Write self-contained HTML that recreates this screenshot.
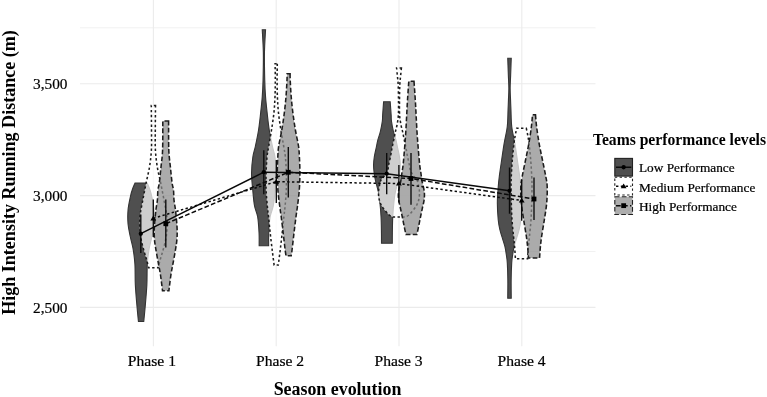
<!DOCTYPE html>
<html lang="en"><head><meta charset="utf-8"><title>Season evolution</title>
<style>html,body{margin:0;padding:0;background:#fff}body{width:767px;height:397px;overflow:hidden}svg{display:block}</style>
</head><body>
<svg width="767" height="397" viewBox="0 0 767 397">
<rect width="767" height="397" fill="#fff"/>
<g stroke="#ebebeb" fill="none">
<line x1="80" x2="595.5" y1="27.8" y2="27.8" stroke-width="0.7"/>
<line x1="80" x2="595.5" y1="139.7" y2="139.7" stroke-width="0.7"/>
<line x1="80" x2="595.5" y1="251.5" y2="251.5" stroke-width="0.7"/>
<line x1="80" x2="595.5" y1="83.8" y2="83.8" stroke-width="1.1"/>
<line x1="80" x2="595.5" y1="195.6" y2="195.6" stroke-width="1.1"/>
<line x1="80" x2="595.5" y1="307.4" y2="307.4" stroke-width="1.1"/>
<line x1="153.4" x2="153.4" y1="0" y2="346.3" stroke-width="1.1"/>
<line x1="276.2" x2="276.2" y1="0" y2="346.3" stroke-width="1.1"/>
<line x1="399" x2="399" y1="0" y2="346.3" stroke-width="1.1"/>
<line x1="521.8" x2="521.8" y1="0" y2="346.3" stroke-width="1.1"/>
</g>
<path d="M147.15,183.00C147.57,184.00 148.90,186.83 149.65,189.00C150.40,191.17 150.90,192.50 151.65,196.00C152.40,199.50 153.73,205.33 154.15,210.00C154.57,214.67 154.52,219.58 154.15,224.00C153.78,228.42 152.78,232.40 151.95,236.50C151.12,240.60 149.93,244.02 149.15,248.60C148.38,253.18 147.68,257.93 147.30,264.00C146.92,270.07 147.21,277.83 146.85,285.00C146.49,292.17 145.67,300.92 145.15,307.00C144.63,313.08 143.98,319.08 143.75,321.50L138.45,321.50C138.22,319.08 137.57,313.08 137.05,307.00C136.53,300.92 135.71,292.17 135.35,285.00C134.99,277.83 135.28,270.07 134.90,264.00C134.52,257.93 133.82,253.18 133.05,248.60C132.27,244.02 131.08,240.60 130.25,236.50C129.42,232.40 128.42,228.42 128.05,224.00C127.68,219.58 127.63,214.67 128.05,210.00C128.47,205.33 129.80,199.50 130.55,196.00C131.30,192.50 131.80,191.17 132.55,189.00C133.30,186.83 134.63,184.00 135.05,183.00Z" fill="#4f4f4f" fill-opacity="1" stroke="#333" stroke-width="1.1"/>
<path d="M155.50,105.40C155.47,109.50 155.32,122.57 155.30,130.00C155.28,137.43 155.07,143.83 155.40,150.00C155.73,156.17 156.42,161.50 157.30,167.00C158.18,172.50 159.58,177.50 160.70,183.00C161.82,188.50 162.98,194.50 164.00,200.00C165.02,205.50 166.32,211.00 166.80,216.00C167.28,221.00 167.10,226.00 166.90,230.00C166.70,234.00 166.32,236.38 165.60,240.00C164.88,243.62 163.52,248.37 162.60,251.70C161.68,255.03 160.85,257.33 160.10,260.00C159.35,262.67 158.43,266.42 158.10,267.70L148.70,267.70C148.37,266.42 147.45,262.67 146.70,260.00C145.95,257.33 145.12,255.03 144.20,251.70C143.28,248.37 141.92,243.62 141.20,240.00C140.48,236.38 140.10,234.00 139.90,230.00C139.70,226.00 139.52,221.00 140.00,216.00C140.48,211.00 141.78,205.50 142.80,200.00C143.82,194.50 144.98,188.50 146.10,183.00C147.22,177.50 148.62,172.50 149.50,167.00C150.38,161.50 151.07,156.17 151.40,150.00C151.73,143.83 151.52,137.43 151.50,130.00C151.48,122.57 151.33,109.50 151.30,105.40Z" fill="#ffffff" fill-opacity="0.72" stroke="#1c1c1c" stroke-width="1.55" stroke-dasharray="2.4 2.4"/>
<path d="M168.60,120.90C168.63,125.75 168.50,142.32 168.80,150.00C169.10,157.68 169.85,161.50 170.40,167.00C170.95,172.50 171.58,179.17 172.10,183.00C172.62,186.83 173.18,187.17 173.50,190.00C173.82,192.83 173.67,196.67 174.00,200.00C174.33,203.33 175.00,205.58 175.50,210.00C176.00,214.42 176.75,221.75 177.00,226.50C177.25,231.25 177.25,234.65 177.00,238.50C176.75,242.35 176.18,245.35 175.50,249.60C174.82,253.85 173.67,259.77 172.90,264.00C172.13,268.23 171.57,270.55 170.90,275.00C170.23,279.45 169.23,288.08 168.90,290.70L162.50,290.70C162.17,288.08 161.17,279.45 160.50,275.00C159.83,270.55 159.27,268.23 158.50,264.00C157.73,259.77 156.58,253.85 155.90,249.60C155.22,245.35 154.65,242.35 154.40,238.50C154.15,234.65 154.15,231.25 154.40,226.50C154.65,221.75 155.40,214.42 155.90,210.00C156.40,205.58 157.07,203.33 157.40,200.00C157.73,196.67 157.58,192.83 157.90,190.00C158.22,187.17 158.78,186.83 159.30,183.00C159.82,179.17 160.45,172.50 161.00,167.00C161.55,161.50 162.30,157.68 162.60,150.00C162.90,142.32 162.77,125.75 162.80,120.90Z" fill="#8a8a8a" fill-opacity="0.72" stroke="#1c1c1c" stroke-width="1.55" stroke-dasharray="4.7 2.3"/>
<path d="M265.55,29.70C265.37,33.58 264.58,44.62 264.45,53.00C264.32,61.38 264.57,72.72 264.75,80.00C264.93,87.28 265.14,91.15 265.55,96.70C265.96,102.25 266.58,107.75 267.20,113.30C267.82,118.85 268.39,124.55 269.25,130.00C270.11,135.45 271.40,141.50 272.35,146.00C273.30,150.50 274.30,152.50 274.95,157.00C275.60,161.50 276.23,167.50 276.25,173.00C276.27,178.50 275.55,184.50 275.05,190.00C274.55,195.50 274.07,201.55 273.25,206.00C272.43,210.45 270.90,212.20 270.15,216.70C269.40,221.20 269.00,228.15 268.75,233.00C268.50,237.85 268.67,243.67 268.65,245.80L259.15,245.80C259.13,243.67 259.30,237.85 259.05,233.00C258.80,228.15 258.40,221.20 257.65,216.70C256.90,212.20 255.37,210.45 254.55,206.00C253.73,201.55 253.25,195.50 252.75,190.00C252.25,184.50 251.53,178.50 251.55,173.00C251.57,167.50 252.20,161.50 252.85,157.00C253.50,152.50 254.50,150.50 255.45,146.00C256.40,141.50 257.69,135.45 258.55,130.00C259.41,124.55 259.98,118.85 260.60,113.30C261.22,107.75 261.84,102.25 262.25,96.70C262.66,91.15 262.87,87.28 263.05,80.00C263.23,72.72 263.48,61.38 263.35,53.00C263.22,44.62 262.43,33.58 262.25,29.70Z" fill="#4f4f4f" fill-opacity="1" stroke="#333" stroke-width="1.1"/>
<path d="M277.30,63.70C277.27,66.42 277.08,74.50 277.10,80.00C277.12,85.50 277.17,91.20 277.40,96.70C277.63,102.20 277.92,107.45 278.50,113.00C279.08,118.55 280.04,124.50 280.90,130.00C281.76,135.50 282.90,141.50 283.65,146.00C284.40,150.50 284.96,152.50 285.40,157.00C285.84,161.50 286.15,167.50 286.30,173.00C286.45,178.50 286.50,184.50 286.30,190.00C286.10,195.50 285.50,201.55 285.10,206.00C284.70,210.45 284.38,212.20 283.90,216.70C283.42,221.20 282.82,227.45 282.20,233.00C281.58,238.55 280.85,244.67 280.20,250.00C279.55,255.33 278.62,262.50 278.30,265.00L274.10,265.00C273.78,262.50 272.85,255.33 272.20,250.00C271.55,244.67 270.82,238.55 270.20,233.00C269.58,227.45 268.98,221.20 268.50,216.70C268.02,212.20 267.70,210.45 267.30,206.00C266.90,201.55 266.30,195.50 266.10,190.00C265.90,184.50 265.95,178.50 266.10,173.00C266.25,167.50 266.56,161.50 267.00,157.00C267.44,152.50 268.00,150.50 268.75,146.00C269.50,141.50 270.64,135.50 271.50,130.00C272.36,124.50 273.32,118.55 273.90,113.00C274.48,107.45 274.77,102.20 275.00,96.70C275.23,91.20 275.28,85.50 275.30,80.00C275.32,74.50 275.13,66.42 275.10,63.70Z" fill="#ffffff" fill-opacity="0.72" stroke="#1c1c1c" stroke-width="1.55" stroke-dasharray="2.4 2.4"/>
<path d="M290.10,73.70C290.12,74.75 290.02,76.17 290.20,80.00C290.38,83.83 290.75,91.20 291.20,96.70C291.65,102.20 292.20,107.45 292.90,113.00C293.60,118.55 294.47,124.50 295.40,130.00C296.33,135.50 297.83,141.50 298.50,146.00C299.17,150.50 299.17,152.50 299.40,157.00C299.63,161.50 299.92,167.50 299.90,173.00C299.88,178.50 299.70,184.50 299.30,190.00C298.90,195.50 298.05,201.55 297.50,206.00C296.95,210.45 296.58,212.20 296.00,216.70C295.42,221.20 294.66,227.45 294.00,233.00C293.34,238.55 292.52,246.20 292.05,250.00C291.58,253.80 291.34,254.83 291.20,255.80L286.00,255.80C285.86,254.83 285.62,253.80 285.15,250.00C284.68,246.20 283.86,238.55 283.20,233.00C282.54,227.45 281.78,221.20 281.20,216.70C280.62,212.20 280.25,210.45 279.70,206.00C279.15,201.55 278.30,195.50 277.90,190.00C277.50,184.50 277.32,178.50 277.30,173.00C277.28,167.50 277.57,161.50 277.80,157.00C278.03,152.50 278.03,150.50 278.70,146.00C279.37,141.50 280.87,135.50 281.80,130.00C282.73,124.50 283.60,118.55 284.30,113.00C285.00,107.45 285.55,102.20 286.00,96.70C286.45,91.20 286.82,83.83 287.00,80.00C287.18,76.17 287.08,74.75 287.10,73.70Z" fill="#8a8a8a" fill-opacity="0.72" stroke="#1c1c1c" stroke-width="1.55" stroke-dasharray="4.7 2.3"/>
<path d="M390.20,101.70C390.36,103.92 390.94,111.78 391.15,115.00C391.36,118.22 391.07,118.22 391.45,121.00C391.83,123.78 392.70,128.53 393.45,131.70C394.20,134.87 395.25,137.28 395.95,140.00C396.65,142.72 397.07,145.22 397.65,148.00C398.23,150.78 399.02,153.87 399.45,156.70C399.88,159.53 400.22,162.28 400.25,165.00C400.28,167.72 399.98,170.33 399.65,173.00C399.32,175.67 398.95,177.88 398.25,181.00C397.55,184.12 396.13,188.53 395.45,191.70C394.77,194.87 394.60,195.83 394.15,200.00C393.70,204.17 393.05,211.20 392.75,216.70C392.45,222.20 392.42,228.57 392.35,233.00C392.27,237.43 392.31,241.58 392.30,243.30L381.50,243.30C381.49,241.58 381.52,237.43 381.45,233.00C381.38,228.57 381.35,222.20 381.05,216.70C380.75,211.20 380.10,204.17 379.65,200.00C379.20,195.83 379.03,194.87 378.35,191.70C377.67,188.53 376.25,184.12 375.55,181.00C374.85,177.88 374.48,175.67 374.15,173.00C373.82,170.33 373.52,167.72 373.55,165.00C373.58,162.28 373.92,159.53 374.35,156.70C374.78,153.87 375.57,150.78 376.15,148.00C376.73,145.22 377.15,142.72 377.85,140.00C378.55,137.28 379.60,134.87 380.35,131.70C381.10,128.53 381.97,123.78 382.35,121.00C382.73,118.22 382.44,118.22 382.65,115.00C382.86,111.78 383.44,103.92 383.60,101.70Z" fill="#4f4f4f" fill-opacity="1" stroke="#333" stroke-width="1.1"/>
<path d="M401.40,68.00C401.27,69.33 400.87,73.17 400.60,76.00C400.33,78.83 399.98,81.00 399.80,85.00C399.62,89.00 399.53,95.00 399.50,100.00C399.47,105.00 399.35,110.83 399.60,115.00C399.85,119.17 400.50,122.22 401.00,125.00C401.50,127.78 402.05,129.20 402.60,131.70C403.15,134.20 403.73,137.28 404.30,140.00C404.87,142.72 405.48,145.33 406.00,148.00C406.52,150.67 406.83,153.17 407.40,156.00C407.97,158.83 408.93,162.67 409.40,165.00C409.87,167.33 409.60,168.33 410.20,170.00C410.80,171.67 411.87,173.33 413.00,175.00C414.13,176.67 416.13,178.50 417.00,180.00C417.87,181.50 417.78,182.00 418.20,184.00C418.62,186.00 419.42,189.33 419.50,192.00C419.58,194.67 419.25,197.67 418.70,200.00C418.15,202.33 417.37,204.00 416.20,206.00C415.03,208.00 413.03,210.42 411.70,212.00C410.37,213.58 409.28,214.67 408.20,215.50C407.12,216.33 405.70,216.75 405.20,217.00L392.80,217.00C392.30,216.75 390.88,216.33 389.80,215.50C388.72,214.67 387.63,213.58 386.30,212.00C384.97,210.42 382.97,208.00 381.80,206.00C380.63,204.00 379.85,202.33 379.30,200.00C378.75,197.67 378.42,194.67 378.50,192.00C378.58,189.33 379.38,186.00 379.80,184.00C380.22,182.00 380.13,181.50 381.00,180.00C381.87,178.50 383.87,176.67 385.00,175.00C386.13,173.33 387.20,171.67 387.80,170.00C388.40,168.33 388.13,167.33 388.60,165.00C389.07,162.67 390.03,158.83 390.60,156.00C391.17,153.17 391.48,150.67 392.00,148.00C392.52,145.33 393.13,142.72 393.70,140.00C394.27,137.28 394.85,134.20 395.40,131.70C395.95,129.20 396.50,127.78 397.00,125.00C397.50,122.22 398.15,119.17 398.40,115.00C398.65,110.83 398.53,105.00 398.50,100.00C398.47,95.00 398.38,89.00 398.20,85.00C398.02,81.00 397.67,78.83 397.40,76.00C397.13,73.17 396.73,69.33 396.60,68.00Z" fill="#ffffff" fill-opacity="0.72" stroke="#1c1c1c" stroke-width="1.55" stroke-dasharray="2.4 2.4"/>
<path d="M414.00,81.30C414.22,84.42 414.95,94.38 415.30,100.00C415.65,105.62 415.82,109.72 416.10,115.00C416.38,120.28 416.65,126.20 417.00,131.70C417.35,137.20 417.75,142.45 418.20,148.00C418.65,153.55 419.25,160.83 419.70,165.00C420.15,169.17 420.52,170.33 420.90,173.00C421.28,175.67 421.43,177.88 422.00,181.00C422.57,184.12 423.95,188.53 424.30,191.70C424.65,194.87 424.42,197.28 424.10,200.00C423.78,202.72 422.98,205.25 422.40,208.00C421.82,210.75 421.18,213.67 420.60,216.50C420.02,219.33 419.52,222.00 418.90,225.00C418.28,228.00 417.23,232.92 416.90,234.50L405.90,234.50C405.57,232.92 404.52,228.00 403.90,225.00C403.28,222.00 402.78,219.33 402.20,216.50C401.62,213.67 400.98,210.75 400.40,208.00C399.82,205.25 399.02,202.72 398.70,200.00C398.38,197.28 398.15,194.87 398.50,191.70C398.85,188.53 400.23,184.12 400.80,181.00C401.37,177.88 401.52,175.67 401.90,173.00C402.28,170.33 402.65,169.17 403.10,165.00C403.55,160.83 404.15,153.55 404.60,148.00C405.05,142.45 405.45,137.20 405.80,131.70C406.15,126.20 406.42,120.28 406.70,115.00C406.98,109.72 407.15,105.62 407.50,100.00C407.85,94.38 408.58,84.42 408.80,81.30Z" fill="#8a8a8a" fill-opacity="0.72" stroke="#1c1c1c" stroke-width="1.55" stroke-dasharray="4.7 2.3"/>
<path d="M511.25,58.30C511.15,61.08 510.83,70.05 510.65,75.00C510.47,79.95 510.17,83.83 510.15,88.00C510.13,92.17 510.42,96.33 510.55,100.00C510.68,103.67 510.75,105.55 510.95,110.00C511.15,114.45 511.10,121.15 511.75,126.70C512.40,132.25 513.92,137.75 514.85,143.30C515.78,148.85 516.55,154.55 517.35,160.00C518.15,165.45 519.08,171.55 519.65,176.00C520.22,180.45 520.42,182.20 520.75,186.70C521.08,191.20 521.65,197.45 521.65,203.00C521.65,208.55 521.18,215.50 520.75,220.00C520.32,224.50 519.75,226.95 519.05,230.00C518.35,233.05 517.38,235.52 516.55,238.30C515.72,241.08 514.70,243.92 514.05,246.70C513.40,249.48 513.04,252.28 512.65,255.00C512.26,257.72 511.95,258.83 511.70,263.00C511.45,267.17 511.22,274.12 511.15,280.00C511.07,285.88 511.23,295.25 511.25,298.30L507.75,298.30C507.77,295.25 507.93,285.88 507.85,280.00C507.78,274.12 507.55,267.17 507.30,263.00C507.05,258.83 506.74,257.72 506.35,255.00C505.96,252.28 505.60,249.48 504.95,246.70C504.30,243.92 503.28,241.08 502.45,238.30C501.62,235.52 500.65,233.05 499.95,230.00C499.25,226.95 498.68,224.50 498.25,220.00C497.82,215.50 497.35,208.55 497.35,203.00C497.35,197.45 497.92,191.20 498.25,186.70C498.58,182.20 498.78,180.45 499.35,176.00C499.92,171.55 500.85,165.45 501.65,160.00C502.45,154.55 503.22,148.85 504.15,143.30C505.08,137.75 506.60,132.25 507.25,126.70C507.90,121.15 507.85,114.45 508.05,110.00C508.25,105.55 508.32,103.67 508.45,100.00C508.58,96.33 508.87,92.17 508.85,88.00C508.83,83.83 508.53,79.95 508.35,75.00C508.17,70.05 507.85,61.08 507.75,58.30Z" fill="#4f4f4f" fill-opacity="1" stroke="#333" stroke-width="1.1"/>
<path d="M526.30,128.30C526.53,129.42 527.25,132.50 527.70,135.00C528.15,137.50 528.50,139.13 529.00,143.30C529.50,147.47 530.25,154.55 530.70,160.00C531.15,165.45 531.48,171.55 531.70,176.00C531.92,180.45 532.00,182.20 532.00,186.70C532.00,191.20 531.87,197.45 531.70,203.00C531.53,208.55 531.37,214.50 531.00,220.00C530.63,225.50 529.93,231.55 529.50,236.00C529.07,240.45 528.72,242.92 528.40,246.70C528.08,250.48 527.73,256.70 527.60,258.70L515.40,258.70C515.27,256.70 514.92,250.48 514.60,246.70C514.28,242.92 513.93,240.45 513.50,236.00C513.07,231.55 512.37,225.50 512.00,220.00C511.63,214.50 511.47,208.55 511.30,203.00C511.13,197.45 511.00,191.20 511.00,186.70C511.00,182.20 511.08,180.45 511.30,176.00C511.52,171.55 511.85,165.45 512.30,160.00C512.75,154.55 513.50,147.47 514.00,143.30C514.50,139.13 514.85,137.50 515.30,135.00C515.75,132.50 516.47,129.42 516.70,128.30Z" fill="#ffffff" fill-opacity="0.72" stroke="#1c1c1c" stroke-width="1.55" stroke-dasharray="2.4 2.4"/>
<path d="M535.50,114.70C535.68,116.70 536.00,121.93 536.60,126.70C537.20,131.47 538.12,137.75 539.10,143.30C540.08,148.85 541.35,154.55 542.45,160.00C543.55,165.45 544.91,171.55 545.70,176.00C546.49,180.45 547.03,182.20 547.20,186.70C547.37,191.20 547.18,197.45 546.70,203.00C546.22,208.55 545.13,214.50 544.30,220.00C543.47,225.50 542.35,231.55 541.70,236.00C541.05,240.45 540.76,243.03 540.40,246.70C540.04,250.37 539.69,256.12 539.55,258.00L528.45,258.00C528.31,256.12 527.96,250.37 527.60,246.70C527.24,243.03 526.95,240.45 526.30,236.00C525.65,231.55 524.53,225.50 523.70,220.00C522.87,214.50 521.78,208.55 521.30,203.00C520.82,197.45 520.63,191.20 520.80,186.70C520.97,182.20 521.51,180.45 522.30,176.00C523.09,171.55 524.45,165.45 525.55,160.00C526.65,154.55 527.92,148.85 528.90,143.30C529.88,137.75 530.80,131.47 531.40,126.70C532.00,121.93 532.32,116.70 532.50,114.70Z" fill="#8a8a8a" fill-opacity="0.72" stroke="#1c1c1c" stroke-width="1.55" stroke-dasharray="4.7 2.3"/>
<g stroke="#0a0a0a" stroke-width="1.35">
<line x1="140.8" x2="140.8" y1="214.4" y2="253"/>
<line x1="263.8" x2="263.8" y1="150.3" y2="194.2"/>
<line x1="386.7" x2="386.7" y1="153" y2="194.2"/>
<line x1="509.5" x2="509.5" y1="167.5" y2="213.7"/>
<line x1="153.3" x2="153.3" y1="199.5" y2="237"/>
<line x1="276.3" x2="276.3" y1="160" y2="203"/>
<line x1="398.9" x2="398.9" y1="165" y2="202.5"/>
<line x1="521.7" x2="521.7" y1="180" y2="220.8"/>
<line x1="165.8" x2="165.8" y1="199.5" y2="247.6"/>
<line x1="288.3" x2="288.3" y1="147" y2="197.5"/>
<line x1="411" x2="411" y1="153" y2="204.7"/>
<line x1="534" x2="534" y1="177.5" y2="220"/>
</g>
<polyline points="140.8,233.7 263.8,172.2 386.7,173.7 509.5,190.8" fill="none" stroke="#0a0a0a" stroke-width="1.5"/>
<polyline points="153.3,218.3 276.3,181.7 398.9,183.5 521.7,200.5" fill="none" stroke="#0a0a0a" stroke-width="1.5" stroke-dasharray="2.4 2.4"/>
<polyline points="165.8,223.7 288.3,172.3 411,178.5 534,199" fill="none" stroke="#0a0a0a" stroke-width="1.5" stroke-dasharray="4.7 2.3"/>
<circle cx="140.8" cy="233.7" r="2.15" fill="#000"/>
<circle cx="263.8" cy="172.2" r="2.15" fill="#000"/>
<circle cx="386.7" cy="173.7" r="2.15" fill="#000"/>
<circle cx="509.5" cy="190.8" r="2.15" fill="#000"/>
<polygon points="153.3,215.60000000000002 156.20000000000002,220.4 150.4,220.4" fill="#000"/>
<polygon points="276.3,179.0 279.2,183.79999999999998 273.40000000000003,183.79999999999998" fill="#000"/>
<polygon points="398.9,180.8 401.79999999999995,185.6 396.0,185.6" fill="#000"/>
<polygon points="521.7,197.8 524.6,202.6 518.8000000000001,202.6" fill="#000"/>
<rect x="163.4" y="221.29999999999998" width="4.8" height="4.8" fill="#000"/>
<rect x="285.90000000000003" y="169.9" width="4.8" height="4.8" fill="#000"/>
<rect x="408.6" y="176.1" width="4.8" height="4.8" fill="#000"/>
<rect x="531.6" y="196.6" width="4.8" height="4.8" fill="#000"/>
<rect x="614.8000000000001" y="158.4" width="17.7" height="17.7" fill="#4f4f4f" stroke="#222" stroke-width="1.1"/>
<line x1="616.0" x2="631.3000000000001" y1="167.25" y2="167.25" stroke="#0a0a0a" stroke-width="1.5"/>
<circle cx="623.6500000000001" cy="167.25" r="2.15" fill="#000"/>
<rect x="614.8000000000001" y="177.29999999999998" width="17.7" height="17.7" fill="#fff" stroke="#222" stroke-width="1.1" stroke-dasharray="2.4 2.4"/>
<line x1="616.0" x2="631.3000000000001" y1="186.14999999999998" y2="186.14999999999998" stroke="#0a0a0a" stroke-width="1.5" stroke-dasharray="2.4 2.4"/>
<polygon points="623.6500000000001,183.45 626.5500000000001,188.24999999999997 620.7500000000001,188.24999999999997" fill="#000"/>
<rect x="614.8000000000001" y="196.79999999999998" width="17.7" height="17.7" fill="#adadad" stroke="#222" stroke-width="1.1" stroke-dasharray="4.7 2.3"/>
<line x1="616.0" x2="631.3000000000001" y1="205.64999999999998" y2="205.64999999999998" stroke="#0a0a0a" stroke-width="1.5" stroke-dasharray="4.7 2.3"/>
<rect x="621.2500000000001" y="203.24999999999997" width="4.8" height="4.8" fill="#000"/>
<g font-family="'Liberation Serif', 'Times New Roman', serif" fill="#000" stroke="#000" stroke-width="0.22">
<text x="67.5" y="88.89999999999999" font-size="15.3" text-anchor="end">3,500</text>
<text x="67.5" y="200.7" font-size="15.3" text-anchor="end">3,000</text>
<text x="67.5" y="312.5" font-size="15.3" text-anchor="end">2,500</text>
<text x="151.9" y="365.8" font-size="15.6" text-anchor="middle">Phase 1</text>
<text x="280.1" y="365.8" font-size="15.6" text-anchor="middle">Phase 2</text>
<text x="398.6" y="365.8" font-size="15.6" text-anchor="middle">Phase 3</text>
<text x="521.6" y="365.8" font-size="15.6" text-anchor="middle">Phase 4</text>
<g fill="#000" font-weight="bold" stroke="none">
<text x="337.5" y="395.3" font-size="17.9" text-anchor="middle">Season evolution</text>
<text transform="translate(14.6,172.5) rotate(-90)" font-size="18.05" text-anchor="middle">High Intensity Running Distance (m)</text>
<text x="592.9" y="145.2" font-size="15.65">Teams performance levels</text>
</g>
<text x="639" y="172.4" font-size="13.3" fill="#000">Low Performance</text>
<text x="639" y="191.8" font-size="13.3" fill="#000">Medium Performance</text>
<text x="639" y="211.2" font-size="13.3" fill="#000">High Performance</text>
</g>
</svg>
</body></html>
